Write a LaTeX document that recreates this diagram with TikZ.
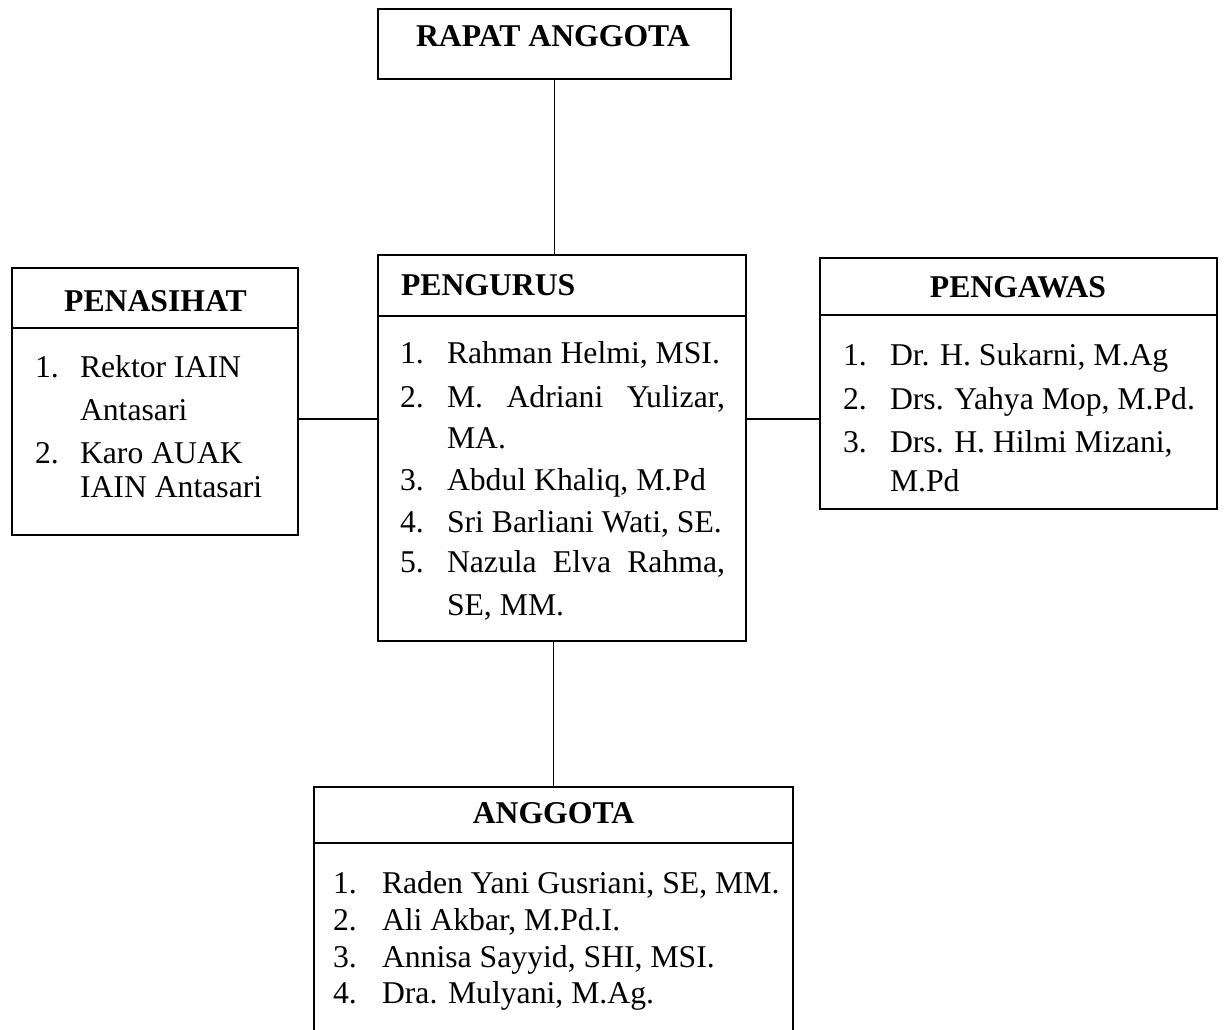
\documentclass[tikz,border=0pt]{standalone}
\usepackage{fontspec}
\setmainfont{Liberation Serif}
\begin{document}
\begin{tikzpicture}[x=1pt,y=1pt,
  box/.style={draw=black, line width=2.2pt, rectangle, inner sep=0pt},
  divider/.style={line width=1.7pt},
  link/.style={line width=1.7pt},
  txt/.style={inner sep=0pt, outer sep=0pt, anchor=base west, font=\fontsize{31.7}{38}\selectfont},
  head/.style={inner sep=0pt, outer sep=0pt, anchor=base, font=\fontsize{31.7}{38}\selectfont\bfseries}]
\useasboundingbox (0,0) rectangle (1224,-1029);
\fill[white] (0,0) rectangle (1224,-1029);

% boxes
\node[box, minimum width=353pt, minimum height=70pt] (rapat) at (554.5,-44) {};
\node[box, minimum width=286pt, minimum height=267pt] (penasihat) at (155,-401.5) {};
\node[box, minimum width=368pt, minimum height=386pt] (pengurus) at (562,-448) {};
\node[box, minimum width=397pt, minimum height=251pt] (pengawas) at (1018.5,-383.5) {};
\node[inner sep=0pt, minimum width=479pt, minimum height=244pt] (anggota) at (553.5,-909) {};
\draw[line width=2.2pt] (anggota.south west) -- (anggota.north west) -- (anggota.north east) -- (anggota.south east);

% dividers
\draw[divider] (penasihat.west |- 0,-328) -- (penasihat.east |- 0,-328);
\draw[divider] (pengurus.west |- 0,-316) -- (pengurus.east |- 0,-316);
\draw[divider] (pengawas.west |- 0,-315) -- (pengawas.east |- 0,-315);
\draw[divider] (anggota.west |- 0,-843) -- (anggota.east |- 0,-843);

% connectors
\draw[link] (rapat.south) -- (rapat.south |- pengurus.north);
\draw[link] ([yshift=-17.5pt]penasihat.east) -- ([yshift=-17.5pt]penasihat.east -| pengurus.west);
\draw[link] ([yshift=29pt]pengurus.east) -- ([yshift=29pt]pengurus.east -| pengawas.west);
\draw[link] (anggota.north) -- (anggota.north |- pengurus.south);

% RAPAT ANGGOTA
\node[head] (rapatT) at (553,-46) {RAPAT ANGGOTA};

% PENASIHAT
\node[head] (penT) at (155.5,-311) {PENASIHAT};
\node[txt] (pn1) at (35,-377) {1.};
\node[txt] (pt1) at (80,-377) {Rektor IAIN};
\node[txt] (pt1b) at (80,-420) {Antasari};
\node[txt] (pn2) at (35,-463) {2.};
\node[txt] (pt2) at (80,-463) {Karo AUAK};
\node[txt] (pt2b) at (80,-497) {IAIN Antasari};

% PENGURUS
\node[head, anchor=base west] (pgT) at (401,-295) {PENGURUS};
\node[txt] (gn1) at (400,-363) {1.};
\node[txt] (gt1) at (447,-363) {Rahman Helmi, MSI.};
\node[txt] (gn2) at (400,-407) {2.};
\node[txt] (gt2) at (447,-407) {\makebox[278pt][s]{M. Adriani Yulizar,}};
\node[txt] (gt2b) at (447,-448) {MA.};
\node[txt] (gn3) at (400,-490) {3.};
\node[txt] (gt3) at (447,-490) {Abdul Khaliq, M.Pd};
\node[txt] (gn4) at (400,-532) {4.};
\node[txt] (gt4) at (447,-532) {Sri Barliani Wati, SE.};
\node[txt] (gn5) at (400,-572) {5.};
\node[txt] (gt5) at (447,-572) {\makebox[278pt][s]{Nazula Elva Rahma,}};
\node[txt] (gt5b) at (447,-615) {SE, MM.};

% PENGAWAS
\node[head] (pwT) at (1018,-297) {PENGAWAS};
\node[txt] (wn1) at (843,-365) {1.};
\node[txt] (wt1) at (890,-365) {Dr. H. Sukarni, M.Ag};
\node[txt] (wn2) at (843,-409) {2.};
\node[txt] (wt2) at (890,-409) {Drs. Yahya Mop, M.Pd.};
\node[txt] (wn3) at (843,-452) {3.};
\node[txt] (wt3) at (890,-452) {Drs. H. Hilmi Mizani,};
\node[txt] (wt3b) at (890,-491) {M.Pd};

% ANGGOTA
\node[head] (agT) at (553.5,-823) {ANGGOTA};
\node[txt] (an1) at (333,-893) {1.};
\node[txt] (at1) at (382,-893) {Raden Yani Gusriani, SE, MM.};
\node[txt] (an2) at (333,-930) {2.};
\node[txt] (at2) at (382,-930) {Ali Akbar, M.Pd.I.};
\node[txt] (an3) at (333,-967) {3.};
\node[txt] (at3) at (382,-967) {Annisa Sayyid, SHI, MSI.};
\node[txt] (an4) at (333,-1003) {4.};
\node[txt] (at4) at (382,-1003) {Dra. Mulyani, M.Ag.};
\end{tikzpicture}
\end{document}
